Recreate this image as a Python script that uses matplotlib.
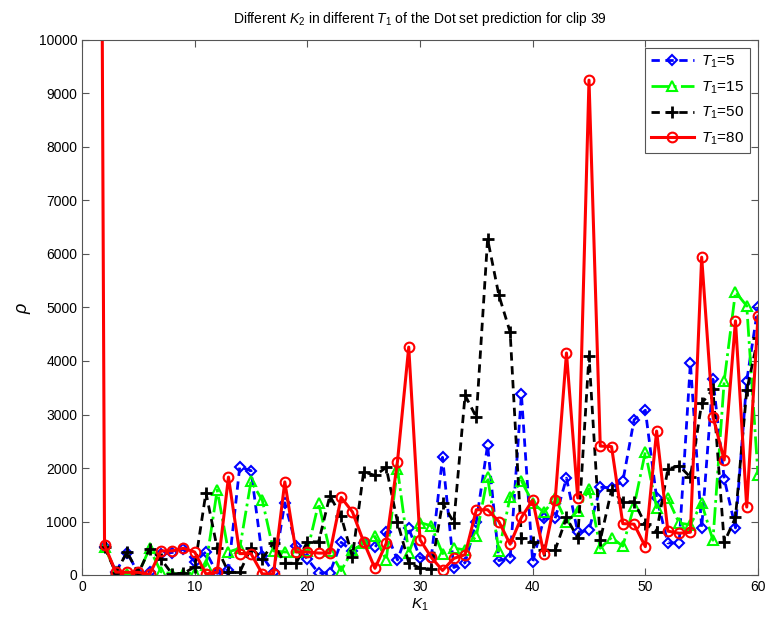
import numpy as np
import matplotlib
matplotlib.use("Agg")
import matplotlib.pyplot as plt

plt.rcParams['font.family'] = ['Liberation Sans', 'DejaVu Sans']
plt.rcParams['mathtext.fontset'] = 'custom'
plt.rcParams['mathtext.it'] = 'Liberation Sans:italic'
plt.rcParams['mathtext.rm'] = 'Liberation Sans'

k_blue = list(range(2, 61))
blue = [530, 60, 420, 30, 50, 400, 420, 480, 250, 430, 30, 100, 2020, 1950, 350, 50,
        1350, 550, 300, 40, 40, 610, 450, 600, 520, 800, 280, 870, 320, 320, 2200,
        140, 230, 1000, 2430, 270, 310, 3380, 240, 1060, 1060, 1810, 800, 840, 1640,
        1630, 1750, 2900, 3080, 1440, 600, 600, 3960, 880, 3660, 1800, 880, 3630, 5010]

k_green = list(range(2, 61))
green = [530, 50, 20, 20, 500, 60, 20, 20, 40, 180, 1590, 430, 500, 1750, 1400, 450,
         430, 430, 450, 1340, 450, 80, 460, 590, 720, 280, 1990, 410, 980, 920, 400,
         500, 470, 730, 1830, 450, 1460, 1760, 1350, 1170, 1440, 990, 1200, 1610, 500,
         700, 540, 1290, 2300, 1260, 1430, 970, 940, 1340, 650, 3630, 5290, 5030, 1870]

k_black = list(range(2, 61))
black = [530, 40, 430, 30, 490, 300, 20, 30, 150, 1540, 500, 50, 50, 510, 300, 600,
         220, 220, 620, 620, 1480, 1100, 340, 1930, 1860, 2010, 990, 230, 130, 110,
         1350, 980, 3360, 2950, 6280, 5230, 4540, 690, 610, 465, 470, 1075, 690, 4100,
         650, 1590, 1370, 1370, 950, 805, 1980, 2040, 1830, 3210, 3470, 610, 1075,
         3450, 4430]

k_red = list(range(1, 61))
red = [48000, 560, 55, 50, 50, 10, 450, 450, 500, 430, 20, 50, 1830, 400, 400, 20, 20,
       1740, 430, 430, 410, 410, 1450, 1180, 620, 125, 590, 2120, 4260, 660, 330, 85,
       310, 380, 1220, 1220, 1000, 575, 1075, 1400, 390, 1410, 4150, 1440, 9250, 2410,
       2400, 960, 950, 530, 2690, 820, 780, 800, 5940, 2960, 2150, 4750, 1270, 4840]

fig = plt.figure(figsize=(7.68, 6.21), dpi=100)
ax = fig.add_axes([82/768, 1-575/621, 676/768, 535/621])

ax.plot(k_blue, blue, color='#0000ff', ls='--', lw=2, marker='D', ms=5.5,
        mfc='none', mew=1.5, label='$T_1$=5', dashes=(3, 2))
ax.plot(k_green, green, color='#00ff00', ls='-.', lw=2, marker='^', ms=7,
        mfc='none', mew=1.5, label='$T_1$=15')
ax.plot(k_black, black, color='black', ls='--', lw=2, marker='+', ms=9,
        mew=2, label='$T_1$=50', dashes=(3, 2))
ax.plot(k_red, red, color='#ff0000', ls='-', lw=2.2, marker='o', ms=7,
        mfc='none', mew=1.5, label='$T_1$=80')

ax.set_xlim(0, 60)
ax.set_ylim(0, 10000)
ax.set_xticks(range(0, 61, 10))
ax.set_yticks(range(0, 10001, 1000))
ax.tick_params(direction='in', top=True, right=True, labelsize=10, length=5,
               color='#555555')
for s in ax.spines.values():
    s.set_color('#555555')
ax.set_xlabel('$K_1$', fontsize=11, labelpad=2)
ax.set_ylabel(r'$\rho$', fontsize=13)
ax.set_title('Different $K_2$ in different $T_1$ of the Dot set prediction for clip 39',
             fontsize=10, pad=12)
leg = ax.legend(loc='upper right', fontsize=11, fancybox=False, framealpha=1,
                edgecolor='#555555', handlelength=2.8, borderpad=0.4,
                labelspacing=0.6, handletextpad=0.5)
leg.get_frame().set_linewidth(0.8)

fig.savefig('out.png', dpi=100)
